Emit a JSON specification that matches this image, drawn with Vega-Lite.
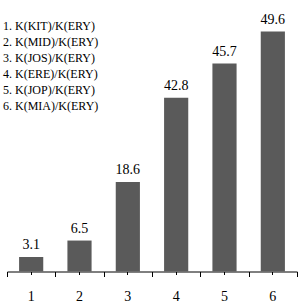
{
  "$schema": "https://vega.github.io/schema/vega-lite/v6.json",
  "width": 290,
  "height": 266,
  "autosize": {"type": "none"},
  "padding": {"left": 7, "top": 5.5, "right": 3, "bottom": 30.5},
  "background": "white",
  "config": {"view": {"stroke": null}, "font": "Liberation Serif", "legend": {"labelFont": "Liberation Serif", "labelFontSize": 12}},
  "data": {
    "values": [
      {"n": "1", "name": "1. K(KIT)/K(ERY)", "height": 3.0, "label": "3.1"},
      {"n": "2", "name": "2. K(MID)/K(ERY)", "height": 6.4, "label": "6.5"},
      {"n": "3", "name": "3. K(JOS)/K(ERY)", "height": 18.5, "label": "18.6"},
      {"n": "4", "name": "4. K(ERE)/K(ERY)", "height": 35.9, "label": "42.8"},
      {"n": "5", "name": "5. K(JOP)/K(ERY)", "height": 43.0, "label": "45.7"},
      {"n": "6", "name": "6. K(MIA)/K(ERY)", "height": 49.6, "label": "49.6"}
    ]
  },
  "layer": [
    {
      "mark": {"type": "bar", "width": {"band": 0.5}},
      "encoding": {
        "x": {
          "field": "n", "type": "ordinal",
          "scale": {"paddingInner": 0, "paddingOuter": 0},
          "axis": {"orient": "bottom", "tickBand": "extent", "labels": false, "tickSize": 5, "domain": true, "domainColor": "black", "tickColor": "black", "domainWidth": 1, "tickWidth": 1, "grid": false, "title": null}
        },
        "y": {"field": "height", "type": "quantitative", "scale": {"domain": [0, 52]}, "axis": null},
        "color": {
          "field": "name", "type": "nominal",
          "scale": {"range": ["#5a5a5a", "#5a5a5a", "#5a5a5a", "#5a5a5a", "#5a5a5a", "#5a5a5a"]},
          "legend": {"orient": "none", "legendX": -16, "legendY": 14, "title": null, "symbolSize": 0, "symbolStrokeWidth": 0, "symbolOpacity": 0, "labelOffset": 0, "labelFont": "Liberation Serif", "labelFontSize": 12, "labelColor": "black", "rowPadding": 4, "padding": 0, "labelLimit": 300}
        }
      }
    },
    {
      "mark": {"type": "text", "baseline": "alphabetic", "dy": -8, "fontSize": 14, "color": "black", "font": "Liberation Serif"},
      "encoding": {
        "x": {
          "field": "n", "type": "ordinal",
          "axis": {"orient": "bottom", "labels": true, "tickSize": 3, "domain": false, "tickColor": "black", "tickWidth": 1, "labelPadding": 14.5, "labelFontSize": 14, "labelFont": "Liberation Serif", "labelColor": "black", "labelAngle": 0, "grid": false, "title": null}
        },
        "y": {"field": "height", "type": "quantitative"},
        "text": {"field": "label"}
      }
    }
  ],
  "resolve": {"axis": {"x": "independent"}}
}
